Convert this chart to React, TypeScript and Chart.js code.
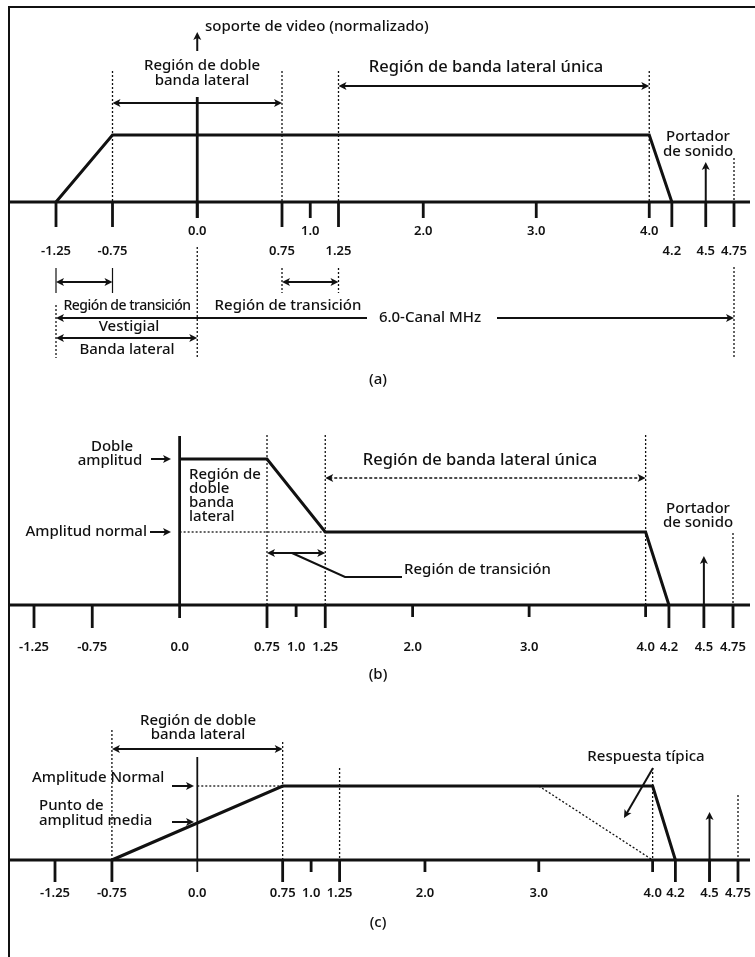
import { useEffect, useRef } from "react";
import { Chart, registerables } from "chart.js";

Chart.register(...registerables);

// ---- data ----
const TICK_VALUES = [-1.25, -0.75, 0.0, 0.75, 1.0, 1.25, 2.0, 3.0, 4.0, 4.2, 4.5, 4.75];
const TICK_LABELS = ["-1.25", "-0.75", "0.0", "0.75", "1.0", "1.25", "2.0", "3.0", "4.0", "4.2", "4.5", "4.75"];
const TICK_LOWER = [true, true, false, true, false, true, false, false, false, true, true, true];

const A_FREQ = [-1.25, -0.75, 4.0, 4.2];
const A_AMP = [0, 1, 1, 0];

const B_FREQ = [0, 0.75, 1.25, 4.0, 4.2];
const B_AMP = [2, 2, 1, 1, 0];
const B_NORMAL_FREQ = [0, 1.25];
const B_NORMAL_AMP = [1, 1];

const C_FREQ = [-0.75, 0.75, 4.0, 4.2];
const C_AMP = [0, 1, 1, 0];
const C_NORMAL_FREQ = [0, 0.75];
const C_NORMAL_AMP = [1, 1];
const C_TYPICAL_FREQ = [3.0, 4.0];
const C_TYPICAL_AMP = [1, 0];

const SOUND_CARRIER = 4.5;
const VIDEO_CARRIER = 0.0;

const FAMILY = '"Noto Sans", "Open Sans", sans-serif';
const INK = "#111";
const FS = 15;
const FS_BIG = 16.5;

type Ctx = CanvasRenderingContext2D;

function seg(ctx: Ctx, x1: number, y1: number, x2: number, y2: number, w = 2, dash: number[] = []) {
  ctx.save();
  ctx.strokeStyle = INK;
  ctx.lineWidth = w;
  ctx.setLineDash(dash);
  ctx.lineCap = "butt";
  ctx.beginPath();
  ctx.moveTo(x1, y1);
  ctx.lineTo(x2, y2);
  ctx.stroke();
  ctx.restore();
}

function head(ctx: Ctx, x: number, y: number, ang: number, len = 8, half = 4) {
  ctx.save();
  ctx.fillStyle = INK;
  ctx.translate(x, y);
  ctx.rotate(ang);
  ctx.beginPath();
  ctx.moveTo(0, 0);
  ctx.lineTo(-len, -half);
  ctx.lineTo(-len * 0.75, 0);
  ctx.lineTo(-len, half);
  ctx.closePath();
  ctx.fill();
  ctx.restore();
}

function arrow(
  ctx: Ctx,
  x1: number,
  y1: number,
  x2: number,
  y2: number,
  o: { start?: boolean; end?: boolean; w?: number; dash?: number[] } = {}
) {
  const w = o.w ?? 2;
  const ang = Math.atan2(y2 - y1, x2 - x1);
  const dx = Math.cos(ang) * 4;
  const dy = Math.sin(ang) * 4;
  const sx = o.start ? x1 + dx : x1;
  const sy = o.start ? y1 + dy : y1;
  const ex = o.end ? x2 - dx : x2;
  const ey = o.end ? y2 - dy : y2;
  seg(ctx, sx, sy, ex, ey, w, o.dash ?? []);
  if (o.end) head(ctx, x2, y2, ang);
  if (o.start) head(ctx, x1, y1, ang + Math.PI);
}

function txt(
  ctx: Ctx,
  s: string,
  x: number,
  y: number,
  size: number = FS,
  align: CanvasTextAlign = "center",
  weight = 500,
  spacing = 0
) {
  ctx.save();
  ctx.fillStyle = INK;
  ctx.font = `${weight} ${size}px ${FAMILY}`;
  ctx.textAlign = align;
  ctx.textBaseline = "middle";
  (ctx as any).letterSpacing = `${spacing}px`;
  ctx.fillText(s, x, y);
  ctx.restore();
}

type PanelSpec = {
  padding: { left: number; right: number; top: number; bottom: number };
  yMax: number;
  datasets: any[];
  draw: (ctx: Ctx, X: (v: number) => number, Y: (v: number) => number, axisY: number) => void;
};

function series(xs: number[], ys: number[], width: number, dash: number[] = []) {
  return {
    data: xs.map((x, i) => ({ x, y: ys[i] })),
    borderColor: INK,
    borderWidth: width,
    borderDash: dash,
    pointRadius: 0,
    tension: 0,
    fill: false,
    clip: false,
    borderJoinStyle: "miter",
  };
}

function drawTicks(
  ctx: Ctx,
  X: (v: number) => number,
  axisY: number,
  longLen: number,
  shortLen: number,
  labelY: (lower: boolean) => number,
  skipZero: boolean
) {
  TICK_VALUES.forEach((v, i) => {
    const x = X(v);
    const lower = TICK_LOWER[i];
    if (!(skipZero && v === VIDEO_CARRIER)) {
      seg(ctx, x, axisY, x, axisY + (lower ? longLen : shortLen), 2.8);
    }
    txt(ctx, TICK_LABELS[i], x, labelY(lower), 13, "center", 600);
  });
}

const DOT = [2, 2];

const PANEL_A: PanelSpec = {
  padding: { left: 56, right: 21, top: 135, bottom: 755 },
  yMax: 1,
  datasets: [series(A_FREQ, A_AMP, 3)],
  draw: (ctx, X, Y, ay) => {
    // frame
    seg(ctx, 8, 7, 755, 7, 2);
    seg(ctx, 9, 6, 9, 957, 2);
    // axis
    seg(ctx, 9, ay, 750, ay, 2.8);
    drawTicks(ctx, X, ay, 25, 16, (lower) => (lower ? 251 : 231), false);
    // video carrier
    seg(ctx, X(VIDEO_CARRIER), 97, X(VIDEO_CARRIER), ay + 16, 2.8);
    arrow(ctx, X(VIDEO_CARRIER), 51, X(VIDEO_CARRIER), 32, { end: true, w: 2 });
    txt(ctx, "soporte de video (normalizado)", 205, 27, FS, "left");
    // dashed guides above
    [-0.75, 0.75, 1.25, 4.0].forEach((v) => seg(ctx, X(v), 71, X(v), ay, 1.3, DOT));
    seg(ctx, X(4.75), 158, X(4.75), ay, 1.3, DOT);
    // double sideband
    arrow(ctx, X(-0.75), 103, X(0.75), 103, { start: true, end: true });
    txt(ctx, "Región de doble", 202, 66);
    txt(ctx, "banda lateral", 202, 81);
    // single sideband
    arrow(ctx, X(1.25), 86, X(4.0), 86, { start: true, end: true });
    txt(ctx, "Región de banda lateral única", 486, 67, FS_BIG);
    // sound carrier
    txt(ctx, "Portador", 698, 137);
    txt(ctx, "de sonido", 698, 152);
    arrow(ctx, X(SOUND_CARRIER), ay, X(SOUND_CARRIER), 162, { end: true });
    // below axis guides
    seg(ctx, X(0), 247, X(0), 357, 1.3, DOT);
    seg(ctx, X(-1.25), 268, X(-1.25), 293, 1.2);
    seg(ctx, X(-1.25), 305, X(-1.25), 358, 1.3, DOT);
    seg(ctx, X(-0.75), 268, X(-0.75), 293, 1.2);
    seg(ctx, X(0.75), 268, X(0.75), 293, 1.3, DOT);
    seg(ctx, X(1.25), 268, X(1.25), 293, 1.3, DOT);
    seg(ctx, X(4.75), 267, X(4.75), 357, 1.3, DOT);
    arrow(ctx, X(-1.25), 282, X(-0.75), 282, { start: true, end: true });
    arrow(ctx, X(0.75), 282, X(1.25), 282, { start: true, end: true });
    txt(ctx, "Región de transición", 127, 306, 14, "center", 500, -0.5);
    txt(ctx, "Región de transición", 288, 306);
    arrow(ctx, 367, 318, X(-1.25), 318, { end: true });
    txt(ctx, "6.0-Canal MHz", 430, 318);
    arrow(ctx, 497, 318, X(4.75), 318, { end: true });
    txt(ctx, "Vestigial", 129, 327);
    arrow(ctx, X(-1.25), 338, X(0), 338, { start: true, end: true });
    txt(ctx, "Banda lateral", 127, 350);
    txt(ctx, "(a)", 378, 380);
  },
};

const PANEL_B: PanelSpec = {
  padding: { left: 34, right: 22, top: 459, bottom: 352 },
  yMax: 2,
  datasets: [series(B_NORMAL_FREQ, B_NORMAL_AMP, 1.3, DOT), series(B_FREQ, B_AMP, 3)],
  draw: (ctx, X, Y, ay) => {
    seg(ctx, 9, ay, 750, ay, 2.8);
    drawTicks(ctx, X, ay, 23, 12, () => 647, true);
    seg(ctx, X(VIDEO_CARRIER), 436, X(VIDEO_CARRIER), ay + 13, 2.8);
    [0.75, 1.25, 4.0].forEach((v) => seg(ctx, X(v), 435, X(v), ay, 1.3, DOT));
    seg(ctx, X(4.75), 533, X(4.75), ay, 1.3, DOT);
    txt(ctx, "Doble", 112, 447);
    txt(ctx, "amplitud", 110, 461);
    arrow(ctx, 151, Y(2), 171, Y(2), { end: true });
    txt(ctx, "Amplitud normal", 147, 532, FS, "right");
    arrow(ctx, 150, Y(1), 171, Y(1), { end: true });
    ["Región de", "doble", "banda", "lateral"].forEach((s, i) => txt(ctx, s, 189, 475 + i * 14, FS, "left"));
    txt(ctx, "Región de banda lateral única", 480, 460, FS_BIG);
    arrow(ctx, X(1.25), 478, X(4.0), 478, { start: true, end: true, w: 1.6, dash: [3, 2] });
    arrow(ctx, X(0.75), 553, X(1.25), 553, { start: true, end: true });
    ctx.save();
    ctx.strokeStyle = INK;
    ctx.lineWidth = 2;
    ctx.beginPath();
    ctx.moveTo(292, 553);
    ctx.lineTo(345, 577);
    ctx.lineTo(402, 577);
    ctx.stroke();
    ctx.restore();
    txt(ctx, "Región de transición", 404, 570, FS, "left");
    txt(ctx, "Portador", 698, 509);
    txt(ctx, "de sonido", 698, 523);
    arrow(ctx, X(SOUND_CARRIER), ay, X(SOUND_CARRIER), 556, { end: true });
    txt(ctx, "(b)", 378, 675);
  },
};

const PANEL_C: PanelSpec = {
  padding: { left: 55, right: 17, top: 786, bottom: 97 },
  yMax: 1,
  datasets: [
    series(C_NORMAL_FREQ, C_NORMAL_AMP, 1.3, DOT),
    series(C_TYPICAL_FREQ, C_TYPICAL_AMP, 1.3, DOT),
    series(C_FREQ, C_AMP, 3),
  ],
  draw: (ctx, X, Y, ay) => {
    seg(ctx, 9, ay, 750, ay, 2.8);
    drawTicks(ctx, X, ay, 22, 12, () => 893, true);
    seg(ctx, X(VIDEO_CARRIER), 757, X(VIDEO_CARRIER), ay + 12, 1.8);
    seg(ctx, X(-0.75), 730, X(-0.75), ay, 1.3, DOT);
    seg(ctx, X(0.75), 742, X(0.75), ay, 1.3, DOT);
    seg(ctx, X(1.25), 768, X(1.25), ay, 1.3, DOT);
    seg(ctx, X(4.0), 768, X(4.0), ay, 1.3, DOT);
    seg(ctx, X(4.75), 795, X(4.75), ay, 1.3, DOT);
    txt(ctx, "Región de doble", 198, 721);
    txt(ctx, "banda lateral", 198, 735);
    arrow(ctx, X(-0.75), 749, X(0.75), 749, { start: true, end: true });
    txt(ctx, "Amplitude Normal", 32, 778, FS, "left");
    arrow(ctx, 172, Y(1), 194, Y(1), { end: true });
    txt(ctx, "Punto de", 39, 806, FS, "left");
    txt(ctx, "amplitud media", 39, 821, FS, "left");
    arrow(ctx, 172, Y(0.5) - 1, 194, Y(0.5) - 1, { end: true });
    txt(ctx, "Respuesta típica", 646, 757);
    arrow(ctx, 653, 768, 624, 818, { end: true });
    arrow(ctx, X(SOUND_CARRIER), ay + 22, X(SOUND_CARRIER), 812, { end: true });
    txt(ctx, "(c)", 378, 923);
  },
};

const PANELS = [PANEL_A, PANEL_B, PANEL_C];

function makeChart(canvas: HTMLCanvasElement, p: PanelSpec) {
  return new Chart(canvas, {
    type: "line",
    data: { datasets: p.datasets },
    options: {
      animation: false,
      responsive: false,
      events: [],
      layout: { padding: p.padding },
      plugins: { legend: { display: false }, tooltip: { enabled: false } },
      scales: {
        x: { type: "linear", min: -1.25, max: 4.75, display: false },
        y: { type: "linear", min: 0, max: p.yMax, display: false },
      },
    },
    plugins: [
      {
        id: "panelDrawing",
        afterDatasetsDraw(chart: any) {
          const ctx = chart.ctx as Ctx;
          const xs = chart.scales.x;
          const ys = chart.scales.y;
          const X = (v: number) => xs.getPixelForValue(v);
          const Y = (v: number) => ys.getPixelForValue(v);
          p.draw(ctx, X, Y, Y(0));
        },
      },
    ],
  } as any);
}

export default function App() {
  const refs = [useRef<HTMLCanvasElement>(null), useRef<HTMLCanvasElement>(null), useRef<HTMLCanvasElement>(null)];
  useEffect(() => {
    document.body.style.margin = "0";
    document.body.style.background = "#fff";
    const charts = PANELS.map((p, i) => makeChart(refs[i].current!, p));
    return () => charts.forEach((c) => c.destroy());
  }, []);
  return (
    <div style={{ position: "relative", width: 755, height: 957, background: "#fff" }}>
      {PANELS.map((_, i) => (
        <canvas
          key={i}
          ref={refs[i]}
          width={755}
          height={957}
          style={{ position: "absolute", left: 0, top: 0, width: 755, height: 957 }}
        />
      ))}
    </div>
  );
}
